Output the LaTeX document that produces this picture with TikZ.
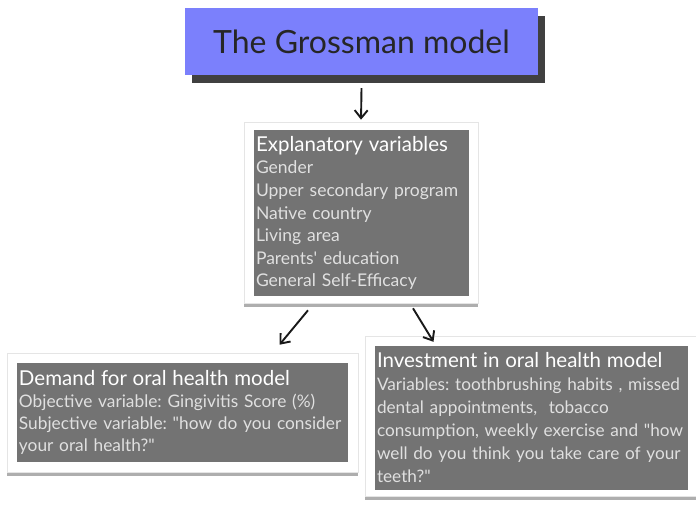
\documentclass[tikz,border=0pt]{standalone}
\usepackage{fontspec}
\setmainfont{Lato}[Ligatures=TeXOff]
\usetikzlibrary{shadows,arrows.meta}
\definecolor{titleblue}{RGB}{123,128,252}
\definecolor{panelgray}{RGB}{115,115,115}
\definecolor{itemgray}{RGB}{224,224,224}
\newcommand{\panelhead}[1]{{\color{white}\fontsize{20.5}{22.6}\selectfont #1}}
\frenchspacing

\begin{document}
\begin{tikzpicture}[x=1pt,y=-1pt]
\tikzstyle{titlebox} = [rectangle,fill=titleblue,minimum width=353pt,minimum height=67pt,text=black!85,font=\fontsize{32}{38}\selectfont,drop shadow={shadow xshift=7pt,shadow yshift=-8pt,fill=black!75,opacity=1}]
\tikzstyle{frame} = [rectangle,fill=white,draw=black!10,line width=0.6pt,inner sep=0pt,drop shadow={shadow xshift=0pt,shadow yshift=-4pt,fill=black!45,opacity=0.7}]
\tikzstyle{panel} = [rectangle,fill=panelgray,inner sep=2pt,align=left,text=itemgray,font=\fontsize{17.5}{22.6}\selectfont]
\tikzstyle{sketch} = [-{Straight Barb[length=8pt,width=13pt]},line width=1.9pt,black!90]

\useasboundingbox (0,0) rectangle (696,505);

\node[titlebox](title) at (361.5,41.5) {The Grossman model};

\node[frame,minimum width=234pt,minimum height=181pt](exframe) at (361,212.5) {};
\node[frame,minimum width=351pt,minimum height=119pt](demframe) at (182.5,412.5) {};
\node[frame,minimum width=332pt,minimum height=160pt](invframe) at (531,416) {};

\node[panel,text width=211pt,minimum height=166pt](explan) at (361.5,213)
{\panelhead{Explanatory variables}\\Gender\\Upper secondary program\\Native country\\Living area\\Parents' education\\General Self-Efficacy};
\node[panel,text width=327pt,minimum height=99pt,font=\fontsize{17.3}{22}\selectfont](demand) at (182.5,412.5)
{\panelhead{Demand for oral health model}\\Objective variable: Gingivitis Score (\%)\\Subjective variable: "how do you consider\\your oral health?"};
\node[panel,text width=309pt,minimum height=144pt,font=\fontsize{17.2}{23}\selectfont](invest) at (531.5,418)
{\panelhead{Investment in oral health model}\\Variables: toothbrushing habits , missed\\dental appointments,\ \ tobacco\\consumption, weekly exercise and "how\\well do you think you take care of your\\teeth?"};

\draw[sketch,shorten >=2pt] ([yshift=-13pt]title.south) -- (exframe.north);
\draw[sketch] ([xshift=-53pt,yshift=-7pt]exframe.south) -- ([xshift=97pt,yshift=8pt]demframe.north);
\draw[sketch] ([xshift=52pt,yshift=-5pt]exframe.south) -- ([xshift=-98pt,yshift=4pt]invest.north);

\end{tikzpicture}
\end{document}
